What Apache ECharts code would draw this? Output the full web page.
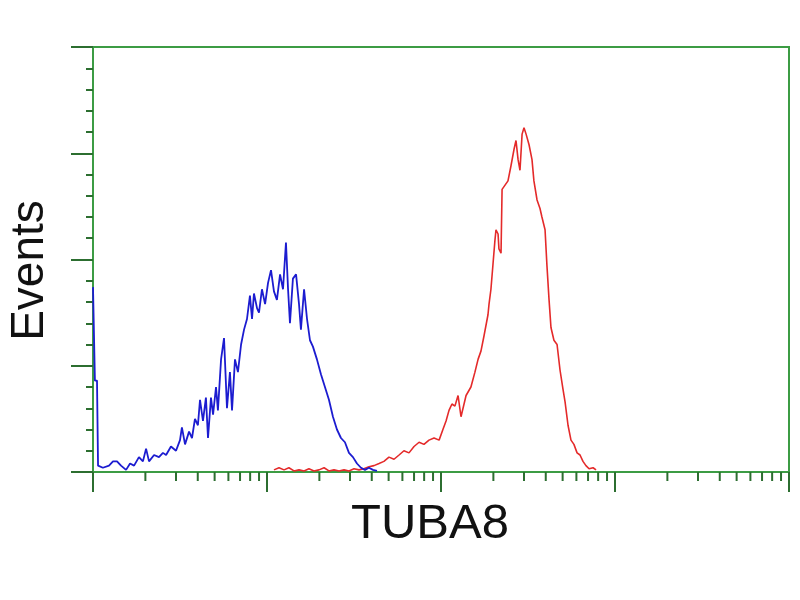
<!DOCTYPE html>
<html>
<head>
<meta charset="utf-8">
<script src="https://cdn.jsdelivr.net/npm/echarts@6/dist/echarts.min.js"></script>
<style>html,body{margin:0;padding:0;background:#fff}#c{width:800px;height:600px}</style>
</head>
<body>
<div id="c"></div>
<script>
// x values are log10 of fluorescence intensity (decades 0..4)
const blueX = [0,0.011,0.023,0.029,0.057,0.092,0.115,0.138,0.161,0.19,0.213,0.236,0.264,0.287,0.305,0.322,0.351,0.379,0.402,0.42,0.448,0.477,0.5,0.511,0.529,0.552,0.569,0.586,0.603,0.615,0.632,0.649,0.661,0.678,0.69,0.707,0.718,0.736,0.753,0.77,0.787,0.799,0.816,0.833,0.851,0.868,0.885,0.902,0.914,0.925,0.943,0.954,0.971,0.989,1.006,1.023,1.04,1.057,1.075,1.092,1.109,1.121,1.132,1.149,1.167,1.184,1.195,1.213,1.23,1.247,1.264,1.287,1.31,1.333,1.356,1.379,1.402,1.425,1.448,1.471,1.494,1.517,1.54,1.563,1.586,1.609,1.632];
const blueCounts = [87,43,43,3,2,3,5,5,3,1,4,3,7,5,11,5,8,7,9,8,12,10,15,21,13,19,16,25,22,34,24,35,16,35,27,40,29,53,63,30,47,29,53,47,60,67,72,83,72,84,77,75,86,79,89,95,85,81,93,86,108,86,70,91,93,79,67,86,72,62,59,53,46,40,34,26,20,16,14,9,7,4,2,1,2,1,0.5];
const redX = [1.04,1.069,1.098,1.126,1.155,1.184,1.213,1.241,1.27,1.299,1.328,1.356,1.385,1.414,1.443,1.471,1.5,1.529,1.557,1.586,1.615,1.644,1.672,1.701,1.73,1.759,1.787,1.816,1.845,1.874,1.902,1.931,1.96,1.989,2.011,2.029,2.046,2.063,2.08,2.098,2.115,2.144,2.172,2.195,2.213,2.23,2.247,2.27,2.276,2.287,2.299,2.31,2.316,2.328,2.333,2.345,2.351,2.368,2.385,2.402,2.42,2.431,2.443,2.454,2.466,2.477,2.489,2.506,2.523,2.534,2.552,2.569,2.58,2.598,2.609,2.621,2.632,2.649,2.667,2.684,2.701,2.713,2.73,2.747,2.764,2.782,2.799,2.816,2.833,2.851,2.874,2.891];
const redCounts = [1,2,1,2,0.5,1,0.5,1.5,0.5,1,2,0.5,1,0.5,1,0.5,1.5,1,1.5,2.5,3,4,5,7,6,8,10,9,12,14,13,15,16,15,20,24,29,32,31,36,26,36,40,47,53,57,64,74,79,86,98,109,114,112,105,103,133,135,137,144,152,156,147,142,159,162,159,154,147,137,128,124,120,114,97,81,68,62,60,48,39,33,22,15,13,9,8,5,3,1.5,2,1];
const xDecades = [0,1,2,3,4];
const yTicks = [0,50,100,150,200];
const xTitle = 'TUBA8';
const yTitle = 'Events';

const axisGreen = '#3c9c44';
const tickGreen = '#2c6e30';
const minorX = [];
for (let d = 0; d < 4; d++) for (let k = 2; k <= 9; k++) minorX.push([d + Math.log10(k), 0]);

const zip = (xs, ys) => xs.map((x, i) => [x, ys[i]]);

const chart = echarts.init(document.getElementById('c'), null, {renderer: 'canvas'});
chart.setOption({
  animation: false,
  backgroundColor: '#fff',
  grid: {left: 93, right: 11, top: 47, bottom: 128, containLabel: false, outerBoundsMode: 'none',
         show: true, borderColor: axisGreen, borderWidth: 2, backgroundColor: 'transparent'},
  xAxis: {
    type: 'value', min: xDecades[0], max: xDecades[xDecades.length-1], interval: 1,
    name: xTitle, nameLocation: 'middle', nameGap: 28,
    nameTextStyle: {fontFamily: 'Liberation Sans, Arial', fontSize: 49, color: '#111', padding: [0, 22, 0, 0]},
    axisLine: {show: true, lineStyle: {color: axisGreen, width: 2}},
    axisTick: {show: true, length: 20, lineStyle: {color: tickGreen, width: 2}},
    axisLabel: {show: false},
    splitLine: {show: false}
  },
  yAxis: {
    type: 'value', min: yTicks[0], max: yTicks[yTicks.length-1], interval: 50,
    name: yTitle, nameLocation: 'middle', nameGap: 40, nameRotate: 90,
    nameTextStyle: {fontFamily: 'Liberation Sans, Arial', fontSize: 46, color: '#111', padding: [0, 22, 0, 0]},
    axisLine: {show: true, lineStyle: {color: axisGreen, width: 2}},
    axisTick: {show: true, length: 22, lineStyle: {color: tickGreen, width: 2}},
    minorTick: {show: true, splitNumber: 5, length: 7, lineStyle: {color: tickGreen, width: 2}},
    axisLabel: {show: false},
    splitLine: {show: false}
  },
  series: [
    {
      type: 'line', data: zip(blueX, blueCounts), showSymbol: false, symbol: 'none',
      lineStyle: {color: '#1c1cd0', width: 1.8}, z: 3, clip: true
    },
    {
      type: 'line', data: zip(redX, redCounts), showSymbol: false, symbol: 'none',
      lineStyle: {color: '#e42a2a', width: 1.6}, z: 2, clip: true
    },
    {
      type: 'custom', data: minorX, clip: false, silent: true, z: 5,
      renderItem: function (params, api) {
        const p = api.coord([api.value(0), 0]);
        return {type: 'line', shape: {x1: p[0], y1: p[1], x2: p[0], y2: p[1] + 9},
                style: {stroke: tickGreen, lineWidth: 2}};
      }
    }
  ]
});
</script>
</body>
</html>
